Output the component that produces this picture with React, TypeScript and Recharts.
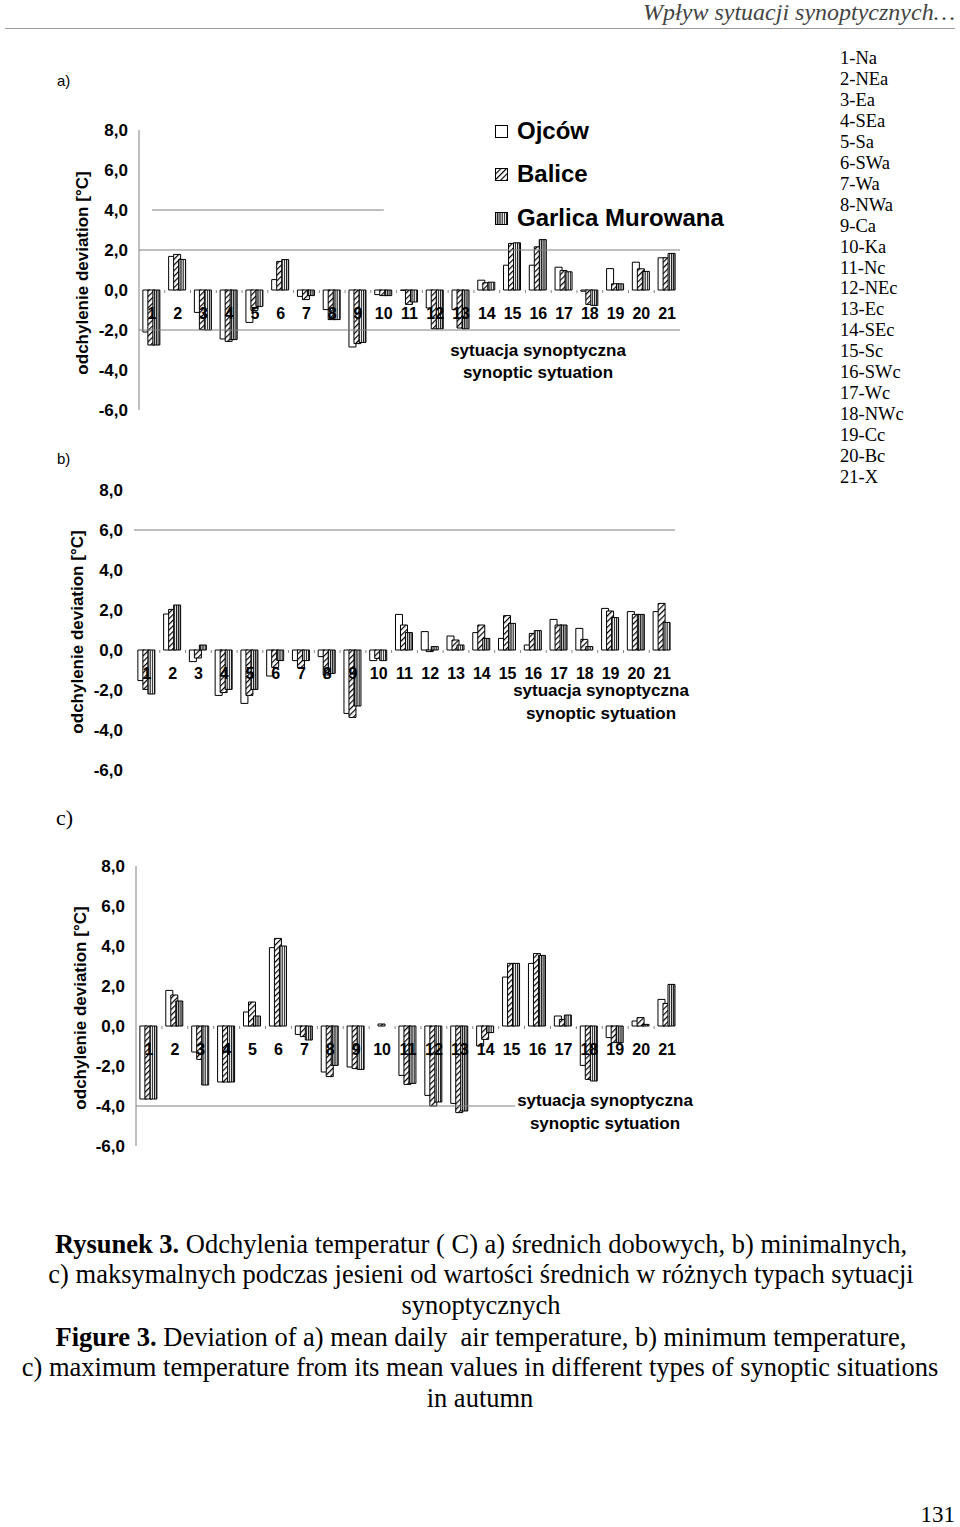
import React from 'react'
import { BarChart, Bar, Line, LabelList, XAxis, YAxis, ReferenceLine } from 'recharts'

const categories = ['1', '2', '3', '4', '5', '6', '7', '8', '9', '10', '11', '12', '13', '14', '15', '16', '17', '18', '19', '20', '21']

const typeNames = ['1-Na', '2-NEa', '3-Ea', '4-SEa', '5-Sa', '6-SWa', '7-Wa', '8-NWa', '9-Ca', '10-Ka', '11-Nc', '12-NEc', '13-Ec', '14-SEc', '15-Sc', '16-SWc', '17-Wc', '18-NWc', '19-Cc', '20-Bc', '21-X']

const yTicks = [-6, -4, -2, 0, 2, 4, 6, 8]

// a) średnie dobowe
const ojcowA = [-2.1, 1.68, -1.12, -2.45, -1.62, 0.52, -0.32, -0.98, -2.85, -0.23, -0.02, -0.9, -0.98, 0.49, 1.24, 1.24, 1.14, -0.06, 1.07, 1.39, 1.61]
const baliceA = [-2.75, 1.78, -1.98, -2.57, -1.02, 1.43, -0.48, -1.48, -2.68, -0.28, -0.72, -1.94, -1.9, 0.36, 2.33, 2.16, 0.97, -0.72, 0.31, 1.06, 1.61]
const garlicaA = [-2.75, 1.53, -2.0, -2.48, -0.82, 1.52, -0.28, -1.48, -2.62, -0.28, -0.6, -1.94, -1.94, 0.39, 2.36, 2.52, 0.91, -0.77, 0.31, 0.93, 1.83]

// b) minimalne
const ojcowB = [-1.53, 1.8, -0.58, -2.27, -2.67, -1.3, -0.53, -0.33, -3.17, -0.53, 1.78, 0.92, 0.7, 0.87, 0.58, 0.25, 1.53, 1.08, 2.08, 1.92, 1.92]
const baliceB = [-1.97, 2.03, -0.4, -2.13, -2.27, -0.87, -0.87, -1.25, -3.37, -0.42, 1.25, -0.08, 0.5, 1.25, 1.72, 0.83, 1.25, 0.53, 1.95, 1.78, 2.33]
const garlicaB = [-2.2, 2.25, 0.25, -1.97, -1.97, -0.53, -0.53, -1.17, -2.8, -0.53, 0.87, 0.17, 0.25, 0.58, 1.33, 0.97, 1.25, 0.17, 1.62, 1.78, 1.38]

// c) maksymalne
const ojcowC = [-3.65, 1.78, -1.3, -2.8, 0.7, 3.92, -0.42, -2.3, -2.05, 0.0, -2.47, -3.47, -3.87, -1.0, 2.45, 3.13, 0.5, -1.97, -0.58, 0.25, 1.33]
const baliceC = [-3.65, 1.55, -1.67, -2.8, 1.2, 4.38, -0.53, -2.53, -2.13, 0.1, -2.92, -4.0, -4.33, -0.67, 3.13, 3.62, 0.33, -2.67, -0.83, 0.42, 1.13]
const garlicaC = [-3.65, 1.25, -2.95, -2.8, 0.5, 4.0, -0.7, -1.97, -2.17, 0.0, -2.87, -3.8, -4.25, -0.33, 3.13, 3.53, 0.55, -2.75, -0.83, 0.08, 2.08]

const SANS = '"Liberation Sans", Arial, sans-serif'
const SERIF = '"Liberation Serif", "Times New Roman", serif'

function buildRows(o: number[], b: number[], g: number[]) {
  return categories.map((cat, i) => ({ cat, ojcow: o[i], balice: b[i], garlica: g[i], zero: 0 }))
}

function catLabel(band: number) {
  return (props: any) => {
    const vb = props.viewBox || {}
    const x = props.x ?? vb.x
    const y = props.y ?? vb.y
    if (x == null || y == null) return null
    const i = props.index
    return (
      <g>
        <text x={x} y={y + 29} textAnchor="middle" fontSize={16} fontWeight="bold" fontFamily={SANS} fill="#000">
          {props.value}
        </text>
        {i < categories.length - 1 && (
          <line x1={x + band / 2} x2={x + band / 2} y1={y} y2={y + 3} stroke="#888" strokeWidth={1} />
        )}
      </g>
    )
  }
}

interface GridDef {
  y: number
  to?: string
}

function DeviationChart({ rows, top, axisW, width, axisLine, grid }: {
  rows: ReturnType<typeof buildRows>
  top: number
  axisW: number
  width: number
  axisLine: boolean
  grid: GridDef[]
}) {
  const band = (width - 20 - axisW) / categories.length
  return (
    <div style={{ position: 'absolute', left: 0, top }}>
      <BarChart
        width={width}
        height={320}
        data={rows}
        margin={{ top: 20, right: 20, bottom: 20, left: 0 }}
        barCategoryGap="15%"
        barGap={-2}
      >
        <XAxis dataKey="cat" hide />
        <YAxis
          type="number"
          domain={[-6, 8]}
          ticks={yTicks}
          interval={0}
          width={axisW}
          tickLine={false}
          tickMargin={5}
          axisLine={axisLine ? { stroke: '#808080' } : false}
          tick={{ fontSize: 17, fontWeight: 'bold', fill: '#000', fontFamily: SANS }}
          tickFormatter={(v: number) => v.toFixed(1).replace('.', ',')}
        />
        {grid.map(gl =>
          gl.to ? (
            <ReferenceLine key={gl.y} segment={[{ x: '1', y: gl.y }, { x: gl.to, y: gl.y }]} stroke="#808080" />
          ) : (
            <ReferenceLine key={gl.y} y={gl.y} stroke="#808080" />
          )
        )}
        <Bar dataKey="ojcow" fill="#fff" stroke="#000" strokeWidth={1} isAnimationActive={false} />
        <Bar dataKey="balice" fill="url(#hatchB)" stroke="#000" strokeWidth={1} isAnimationActive={false} />
        <Bar dataKey="garlica" fill="url(#stripeG)" stroke="#000" strokeWidth={1} isAnimationActive={false} />
        <Line dataKey="zero" stroke="none" dot={false} activeDot={false} legendType="none" isAnimationActive={false}>
          <LabelList dataKey="cat" content={catLabel(band)} />
        </Line>
      </BarChart>
    </div>
  )
}

function T({ x, y, children, style, anchor = 'middle' }: {
  x: number
  y: number
  children: React.ReactNode
  style?: React.CSSProperties
  anchor?: 'start' | 'middle' | 'end'
}) {
  const tx = anchor === 'middle' ? '-50%' : anchor === 'end' ? '-100%' : '0'
  return (
    <div
      style={{
        position: 'absolute', left: x, top: y, whiteSpace: 'nowrap', lineHeight: 1,
        transform: `translate(${tx}, -50%)`, ...style,
      }}
    >
      {children}
    </div>
  )
}

function Swatch({ fill }: { fill: string }) {
  return (
    <svg width={13} height={13} style={{ position: 'absolute', left: 0, top: -6.5 }}>
      <rect x={0.5} y={0.5} width={12} height={12} fill={fill} stroke="#000" strokeWidth={1} />
    </svg>
  )
}

const axisTitle: React.CSSProperties = { fontFamily: SANS, fontWeight: 'bold', fontSize: 17 }
const captionStyle: React.CSSProperties = { fontFamily: SERIF, fontSize: 26.5, color: '#000' }

export default function App() {
  const legend = [
    { name: 'Ojców', fill: '#fff', y: 131 },
    { name: 'Balice', fill: 'url(#hatchB)', y: 174 },
    { name: 'Garlica Murowana', fill: 'url(#stripeG)', y: 218 },
  ]
  return (
    <div style={{ position: 'absolute', left: 0, top: 0, width: 960, height: 1527, background: '#fff', overflow: 'hidden' }}>
      <svg width={0} height={0} style={{ position: 'absolute' }}>
        <defs>
          <pattern id="hatchB" patternUnits="userSpaceOnUse" width={4} height={4} patternTransform="rotate(45)">
            <rect width={4} height={4} fill="#fff" />
            <line x1={0.6} y1={0} x2={0.6} y2={4} stroke="#000" strokeWidth={1.2} />
          </pattern>
          <pattern id="stripeG" patternUnits="userSpaceOnUse" width={2.2} height={4}>
            <rect width={2.2} height={4} fill="#fff" />
            <line x1={0.6} y1={0} x2={0.6} y2={4} stroke="#000" strokeWidth={1.1} />
          </pattern>
        </defs>
      </svg>

      {/* header */}
      <T x={955} y={12} anchor="end" style={{ fontFamily: SERIF, fontStyle: 'italic', fontSize: 24, color: '#444' }}>
        Wpływ sytuacji synoptycznych…
      </T>
      <div style={{ position: 'absolute', left: 5, top: 28, width: 950, height: 1, background: '#999' }} />

      <DeviationChart rows={buildRows(ojcowA, baliceA, garlicaA)} top={110} axisW={139} width={700} axisLine
        grid={[{ y: 4, to: '10' }, { y: 2 }, { y: -2 }]} />
      <DeviationChart rows={buildRows(ojcowB, baliceB, garlicaB)} top={470} axisW={134} width={695} axisLine={false}
        grid={[{ y: 6 }]} />
      <DeviationChart rows={buildRows(ojcowC, baliceC, garlicaC)} top={846} axisW={136} width={700} axisLine
        grid={[{ y: -4 }]} />

      {/* panel letters */}
      <T x={57} y={80} anchor="start" style={{ fontFamily: SANS, fontSize: 15 }}>a)</T>
      <T x={57} y={458} anchor="start" style={{ fontFamily: SANS, fontSize: 15 }}>b)</T>
      <T x={56} y={818} anchor="start" style={{ fontFamily: SERIF, fontSize: 22 }}>c)</T>

      {/* series legend */}
      {legend.map(l => (
        <div key={l.name} style={{ position: 'absolute', left: 495, top: l.y }}>
          <Swatch fill={l.fill} />
          <T x={22} y={0} anchor="start" style={{ fontFamily: SANS, fontWeight: 'bold', fontSize: 24 }}>{l.name}</T>
        </div>
      ))}

      {/* synoptic types list */}
      {typeNames.map((n, i) => (
        <T key={n} x={840} y={58 + i * 20.95} anchor="start" style={{ fontFamily: SERIF, fontSize: 18.5 }}>{n}</T>
      ))}

      {/* y axis titles */}
      {[{ x: 82, y: 273 }, { x: 77, y: 632 }, { x: 80, y: 1008 }].map((p, i) => (
        <div
          key={i}
          style={{
            position: 'absolute', left: p.x, top: p.y, whiteSpace: 'nowrap', lineHeight: 1,
            transform: 'translate(-50%, -50%) rotate(-90deg)', ...axisTitle,
          }}
        >
          odchylenie deviation [°C]
        </div>
      ))}

      {/* x axis titles */}
      <T x={538} y={350} style={axisTitle}>sytuacja synoptyczna</T>
      <T x={538} y={372} style={axisTitle}>synoptic sytuation</T>
      <T x={601} y={690} style={axisTitle}>sytuacja synoptyczna</T>
      <T x={601} y={713} style={axisTitle}>synoptic sytuation</T>
      <T x={605} y={1100} style={{ ...axisTitle, background: '#fff', padding: '0 2px' }}>sytuacja synoptyczna</T>
      <T x={605} y={1123} style={axisTitle}>synoptic sytuation</T>

      {/* caption */}
      <T x={481} y={1244} style={captionStyle}>
        <b>Rysunek 3.</b> Odchylenia temperatur ( C) a) średnich dobowych, b) minimalnych,
      </T>
      <T x={481} y={1274} style={captionStyle}>
        c) maksymalnych podczas jesieni od wartości średnich w różnych typach sytuacji
      </T>
      <T x={481} y={1305} style={captionStyle}>synoptycznych</T>
      <T x={481} y={1337} style={captionStyle}>
        <b>Figure 3.</b> Deviation of a) mean daily&nbsp; air temperature, b) minimum temperature,
      </T>
      <T x={480} y={1367} style={captionStyle}>
        c) maximum temperature from its mean values in different types of synoptic situations
      </T>
      <T x={480} y={1398} style={captionStyle}>in autumn</T>

      <T x={955} y={1514} anchor="end" style={{ fontFamily: SERIF, fontSize: 23 }}>131</T>
    </div>
  )
}
